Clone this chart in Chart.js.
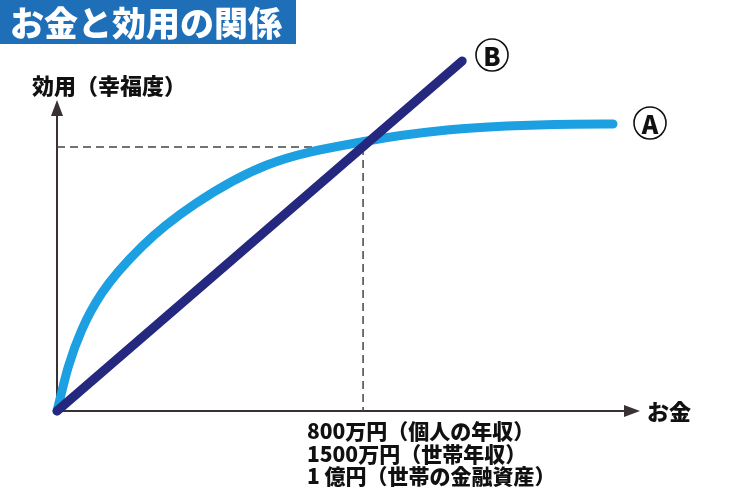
<!DOCTYPE html>
<html>
<head>
<meta charset="utf-8">
<script src="https://cdn.jsdelivr.net/npm/chart.js@4"></script>
<style>
  html, body { margin: 0; padding: 0; background: #fff; }
  #wrap { position: relative; width: 750px; height: 500px; }
</style>
</head>
<body>
<div id="wrap"><canvas id="chart" width="750" height="500"></canvas></div>
<script>
// data
const title = "お金と効用の関係"
const yLabel = "効用（幸福度）"
const xLabel = "お金"
const moneyLines = ["800万円（個人の年収）", "1500万円（世帯年収）", "1 億円（世帯の金融資産）"]

const moneyA = [0, 1.94, 4.24, 7.67, 14.53, 23.67, 36.02, 53.17, 66.9, 77.19, 88.51, 95.37]
const utilityA = [0, 12.66, 23.14, 33.63, 46.94, 59.14, 70.29, 77.14, 80.29, 81.43, 81.95, 82.0]
const moneyB = [0, 69.5]
const utilityB = [0, 100]
const markMoney = 52.5
const markUtility = 75.4

const FONT = "'Noto Sans CJK JP', 'Noto Sans', sans-serif"
const pts = (xs, ys) => xs.map((x, i) => ({ x: x, y: ys[i] }))

const decor = {
    id: "decor",
    beforeDatasetsDraw(chart) {
        const ctx = chart.ctx
        const x = chart.scales.x, y = chart.scales.y
        const x0 = x.getPixelForValue(0), y0 = y.getPixelForValue(0)
        ctx.save()
        ctx.strokeStyle = "#3a3232"
        ctx.fillStyle = "#3a3232"
        ctx.lineWidth = 2
        // y axis
        ctx.beginPath(); ctx.moveTo(x0, y0 + 1); ctx.lineTo(x0, 112); ctx.stroke()
        ctx.beginPath(); ctx.moveTo(x0, 100); ctx.lineTo(x0 - 6, 116); ctx.lineTo(x0 + 6, 116); ctx.closePath(); ctx.fill()
        // x axis
        ctx.beginPath(); ctx.moveTo(x0 - 1, y0); ctx.lineTo(628, y0); ctx.stroke()
        ctx.beginPath(); ctx.moveTo(640, y0); ctx.lineTo(624, y0 - 6); ctx.lineTo(624, y0 + 6); ctx.closePath(); ctx.fill()
        ctx.restore()
    },
    afterDraw(chart) {
        const ctx = chart.ctx
        ctx.save()
        // title box
        ctx.fillStyle = "#1f6fb8"
        ctx.fillRect(0, 0, 296, 44)
        ctx.fillStyle = "#fff"
        ctx.font = "900 34px " + FONT
        ctx.textBaseline = "middle"
        ctx.fillText(title, 10, 23)

        ctx.fillStyle = "#111"
        ctx.font = "900 22px " + FONT
        ctx.textBaseline = "alphabetic"
        ctx.fillText(yLabel, 32, 94)
        ctx.fillText(xLabel, 647, 420)

        ctx.font = "900 21px " + FONT
        moneyLines.forEach((t, i) => ctx.fillText(t, 307, 439 + i * 22.5))

        // circled letters
        const circ = (cx, cy, ch) => {
            ctx.beginPath()
            ctx.arc(cx, cy, 16, 0, Math.PI * 2)
            ctx.lineWidth = 1.6
            ctx.strokeStyle = "#111"
            ctx.stroke()
            ctx.font = "900 25px " + FONT
            ctx.textAlign = "center"
            ctx.textBaseline = "middle"
            ctx.fillText(ch, cx, cy + 1)
        }
        circ(650, 123, "A")
        circ(492, 55, "B")
        ctx.restore()
    }
}

new Chart(document.getElementById("chart"), {
    type: "scatter",
    data: {
        datasets: [
            {
                label: "B",
                data: pts(moneyB, utilityB),
                showLine: true,
                borderColor: "#25287f",
                borderWidth: 9,
                borderCapStyle: "round",
                pointRadius: 0,
                order: 0,
                clip: false,
            },
            {
                label: "A",
                data: pts(moneyA, utilityA),
                showLine: true,
                borderColor: "#1ca0e2",
                borderWidth: 9,
                borderCapStyle: "round",
                borderJoinStyle: "round",
                cubicInterpolationMode: "monotone",
                pointRadius: 0,
                order: 1,
                clip: false,
            },
            {
                label: "h",
                data: [{ x: 0, y: markUtility }, { x: markMoney, y: markUtility }],
                showLine: true,
                borderColor: "#444",
                borderWidth: 1.5,
                borderDash: [8, 5],
                pointRadius: 0,
                order: 2,
            },
            {
                label: "v",
                data: [{ x: markMoney, y: markUtility }, { x: markMoney, y: 0 }],
                showLine: true,
                borderColor: "#444",
                borderWidth: 1.5,
                borderDash: [8, 5],
                pointRadius: 0,
                order: 2,
            },
        ]
    },
    options: {
        responsive: false,
        animation: false,
        layout: { padding: { left: 57, right: 110, top: 61, bottom: 89 } },
        scales: {
            x: { type: "linear", min: 0, max: 100, display: false },
            y: { type: "linear", min: 0, max: 100, display: false },
        },
        plugins: { legend: { display: false }, tooltip: { enabled: false } },
    },
    plugins: [decor]
})
</script>
</body>
</html>
